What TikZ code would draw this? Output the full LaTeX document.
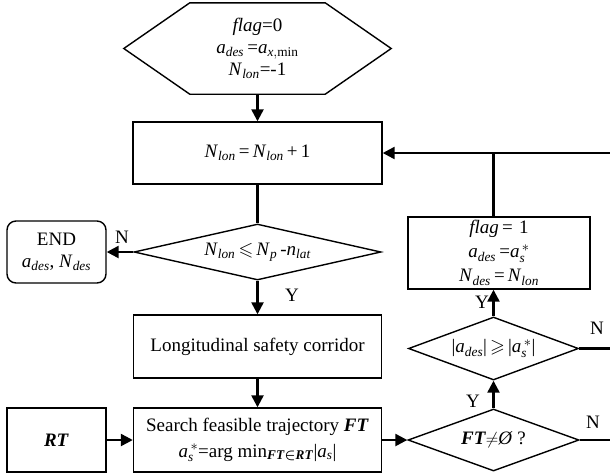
\documentclass[tikz,border=0pt]{standalone}
\usepackage{fontspec}
\usepackage{amsmath,amssymb}
\setmainfont{Liberation Serif}
\usetikzlibrary{shapes.geometric,arrows.meta}
\newcommand{\lsub}[1]{$_{\textit{#1}}$}
\begin{document}
\begin{tikzpicture}[x=1pt,y=-1pt,
  font=\fontsize{19}{22}\selectfont,
  box/.style={draw, line width=1.4pt, inner sep=0pt, align=center},
  dia/.style={draw, diamond, line width=1.4pt, inner sep=0pt, align=center},
  conn/.style={line width=2.4pt},
  arr/.style={conn, -{Triangle[length=12pt,width=12pt]}},
  lbl/.style={inner sep=0pt}]
\useasboundingbox (0,0) rectangle (610,475);

% start hexagon
\node[inner sep=0pt, minimum width=267pt, minimum height=91pt, align=center] (hex) at (257.5,48.5)
  {\textit{flag}=0\\ \textit{a}\lsub{des}\,=\textit{a}$_{\textit{x},\textup{min}}$\\ \textit{N}\lsub{lon}=-1};
\draw[line width=1.4pt] (hex.west) -- ([xshift=66pt]hex.north west) -- ([xshift=-66pt]hex.north east)
  -- (hex.east) -- ([xshift=-66pt]hex.south east) -- ([xshift=66pt]hex.south west) -- cycle;

\node[box, minimum width=249pt, minimum height=62pt] (inc) at (257.5,153)
  {\textit{N}\lsub{lon}\,=\,\textit{N}\lsub{lon}\,+\,1};
\node[dia, aspect=4.4, minimum width=247pt, minimum height=56pt] (d1) at (257.5,252)
  {\textit{N}\lsub{lon}\,$\leqslant$\,\textit{N}\lsub{p}\,-\textit{n}\lsub{lat}};
\node[box, rounded corners=9pt, minimum width=99pt, minimum height=62pt] (end) at (56.5,252)
  {END\\ \textit{a}\lsub{des}, \textit{N}\lsub{des}};
\node[box, minimum width=248pt, minimum height=63pt] (long) at (257.5,346.5)
  {Longitudinal safety corridor};
\node[box, minimum width=248pt, minimum height=64pt] (search) at (257.5,440)
  {Search feasible trajectory \textbf{\textit{FT}}\\[3pt]
   \textit{a}$_{\textit{s}}^{\,*}$=arg min$_{\textbf{\textit{FT}}\boldsymbol{\in}\textbf{\textit{RT}}}$|\textit{a}\lsub{s}|};
\node[box, minimum width=99pt, minimum height=64pt] (rt) at (56.5,440) {\textbf{\textit{RT}}};
\node[dia, aspect=2.75, minimum width=171pt, minimum height=62pt] (dft) at (493.5,440)
  {\textbf{\textit{FT}}$\neq$\textit{Ø} ?};
\node[dia, aspect=2.7, minimum width=170pt, minimum height=63pt] (d2) at (493.5,348.5)
  {|\textit{a}\lsub{des}|\,$\geqslant$\,|\textit{a}$_{\textit{s}}^{\,*}$|};
\node[box, minimum width=182pt, minimum height=72pt, font=\fontsize{19}{24}\selectfont] (flag) at (499,253)
  {\textit{flag}\,=\,\,1\\ \textit{a}\lsub{des}\,=\textit{a}$_{\textit{s}}^{\,*}$\\ \textit{N}\lsub{des}\,=\,\textit{N}\lsub{lon}};

\coordinate (r1) at (610,153);
\coordinate (r2) at (610,348.5);
\coordinate (r3) at (610,440);

% connectors
\draw[arr] (hex.south) -- (inc.north);
\draw[conn] (inc.south) -- (d1.north);
\draw[arr] (d1.west) -- (end.east);
\draw[arr] (d1.south) -- (long.north);
\draw[arr] (long.south) -- (search.north);
\draw[arr] (rt.east) -- (search.west);
\draw[arr] (search.east) -- (dft.west);
\draw[arr] (dft.north) -- (d2.south);
\draw[arr] (d2.north) -- (d2.north |- flag.south);
\draw[conn] (d2.east) -- (r2);
\draw[conn] (dft.east) -- (r3);
\draw[arr] (r1) -- (inc.east);
\draw[conn] (d2.north |- flag.north) -- (d2.north |- r1);

% labels
\node[lbl] (n1) at (122,237) {N};
\node[lbl] (y1) at (292,295) {Y};
\node[lbl] (n2) at (597,328) {N};
\node[lbl] (y2) at (482,302) {Y};
\node[lbl] (y3) at (473,401) {Y};
\node[lbl] (n3) at (593,422) {N};
\end{tikzpicture}
\end{document}
